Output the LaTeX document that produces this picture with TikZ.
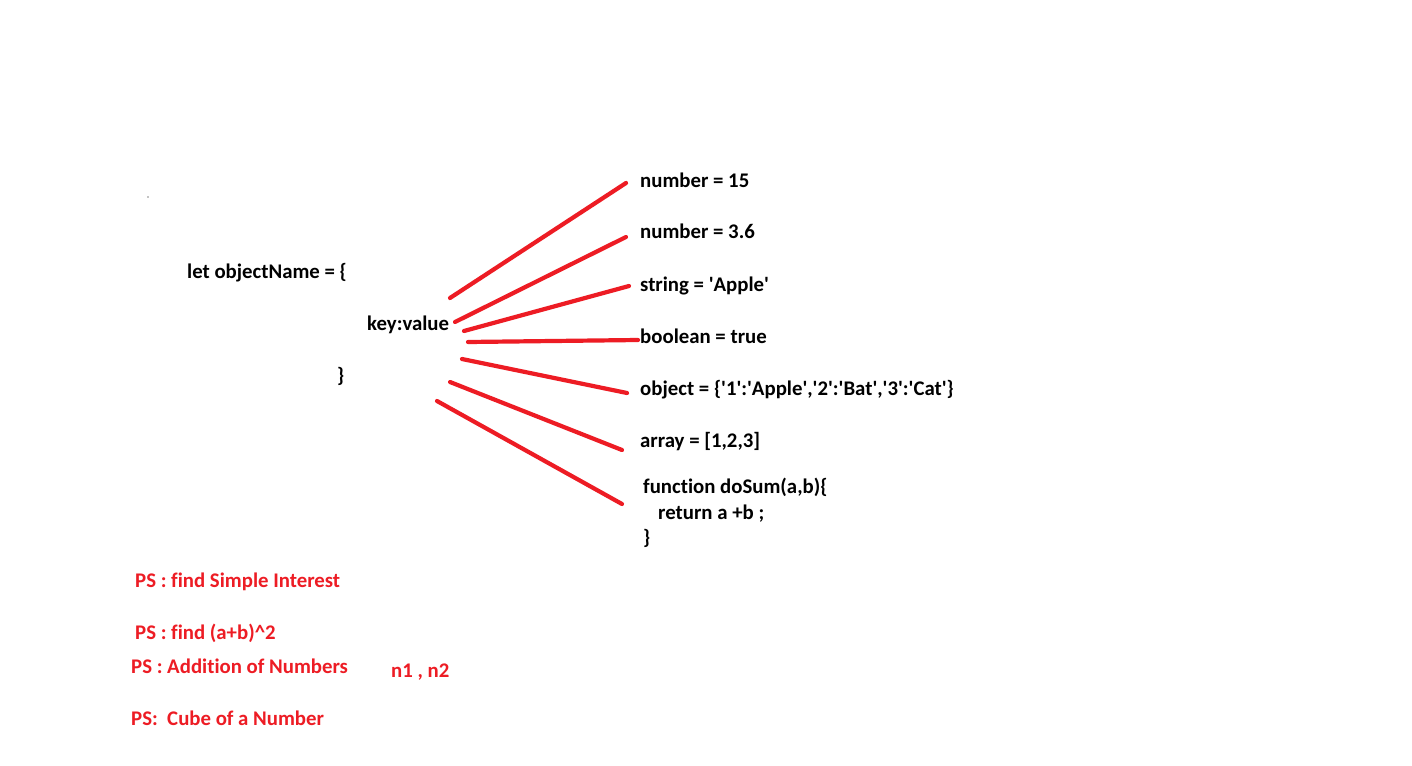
\documentclass[tikz,border=0pt]{standalone}
\usepackage{fontspec}
\setmainfont{Carlito}[Ligatures={NoCommon}]
\definecolor{pred}{HTML}{ED1C24}
\newcommand{\sq}{\textquotesingle}
\begin{document}
\begin{tikzpicture}[x=1pt,y=-1pt,
  txt/.style={anchor=base west,inner sep=0pt,font=\fontsize{20.8}{25}\selectfont\bfseries},
  rtxt/.style={txt,text=pred},
  ray/.style={draw=pred,line width=4.2pt,line cap=round}]
\useasboundingbox[fill=white] (0,0) rectangle (1412,765);
\fill (148,197) circle (0.6);
\node[txt] (obj) at (187,278) {let objectName = \{};
\node[txt] (kv) at (367,330) {key:value};
\node[txt] (cl) at (337,382) {\}};
\node[txt] (n15) at (640,187) {number = 15};
\node[txt] (n36) at (640,238) {number = 3.6};
\node[txt] (str) at (640,291) {string = \sq Apple\sq};
\node[txt] (bool) at (640,343) {boolean = true};
\node[txt] (ob) at (640,395) {object = \{\sq 1\sq:\sq Apple\sq,\sq 2\sq:\sq Bat\sq,\sq 3\sq:\sq Cat\sq\}};
\node[txt] (arr) at (640,447) {array = [1,2,3]};
\node[txt] (fn1) at (643,493) {function doSum(a,b)\{};
\node[txt] (fn2) at (658,519) {return a +b ;};
\node[txt] (fn3) at (643,544) {\}};
\node[rtxt] (ps1) at (135,587) {PS : find Simple Interest};
\node[rtxt] (ps2) at (135,639) {PS : find (a+b)\^{}2};
\node[rtxt] (ps3) at (131,673) {PS : Addition of Numbers};
\node[rtxt] (nn) at (391,677) {n1 , n2};
\node[rtxt] (ps4) at (131,725) {PS:\ \ Cube of a Number};
\coordinate (s1) at (450,298); \coordinate (e1) at (626,183);
\coordinate (s2) at (455,322); \coordinate (e2) at (626,237);
\coordinate (s3) at (464,331); \coordinate (e3) at (629,286);
\coordinate (s4) at (468,342); \coordinate (e4) at (638,340);
\coordinate (s5) at (462,359); \coordinate (e5) at (627,393);
\coordinate (s6) at (450,382); \coordinate (e6) at (622,450);
\coordinate (s7) at (437,401); \coordinate (e7) at (622,504);
\foreach \i in {1,...,7} {\draw[ray] (s\i) -- (e\i);}
\end{tikzpicture}
\end{document}
